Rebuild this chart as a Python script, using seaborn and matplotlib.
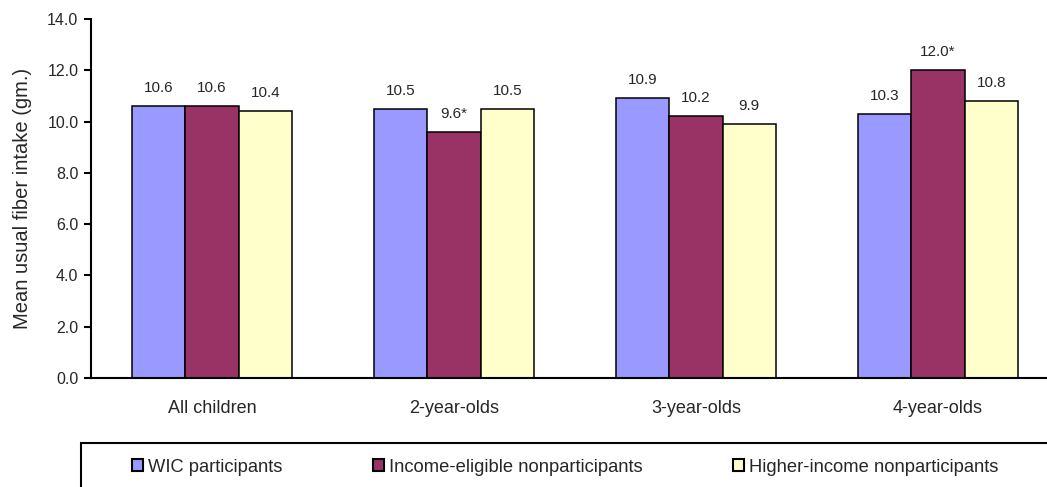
import numpy as np
import pandas as pd
import seaborn as sns
import matplotlib.pyplot as plt
from matplotlib.patches import Rectangle

# Chart data
categories = ['All children', '2-year-olds', '3-year-olds', '4-year-olds']
groups = ['WIC participants', 'Income-eligible nonparticipants', 'Higher-income nonparticipants']
wic = [10.6, 10.5, 10.9, 10.3]
eligible = [10.6, 9.6, 10.2, 12.0]
higher = [10.4, 10.5, 9.9, 10.8]
labels_wic = ['10.6', '10.5', '10.9', '10.3']
labels_eligible = ['10.6', '9.6*', '10.2', '12.0*']
labels_higher = ['10.4', '10.5', '9.9', '10.8']
colors = ['#9999FF', '#993366', '#FFFFCC']

df = pd.DataFrame({
    'category': categories * 3,
    'group': [groups[0]] * 4 + [groups[1]] * 4 + [groups[2]] * 4,
    'value': wic + eligible + higher,
})

sns.set_style('white')
plt.rcParams['font.family'] = ['Liberation Sans', 'DejaVu Sans']

fig = plt.figure(figsize=(10.47, 4.87), dpi=100)
ax = fig.add_axes([91 / 1047, 109 / 487, 968 / 1047, 359 / 487])

sns.barplot(data=df, x='category', y='value', hue='group', order=categories,
            hue_order=groups, palette=colors, saturation=1, width=0.66, gap=0,
            edgecolor='black', linewidth=1.1, errorbar=None, ax=ax, legend=False)

# value labels
all_labels = [labels_wic, labels_eligible, labels_higher]
for container, labs in zip(ax.containers, all_labels):
    ax.bar_label(container, labels=labs, padding=8, fontsize=11)

ax.set_ylim(0, 14)
ax.set_xlim(-0.5, 3.5)
ax.set_yticks(np.arange(0, 14.1, 2))
ax.set_yticklabels([f'{v:.1f}' for v in np.arange(0, 14.1, 2)], fontsize=11.5)
ax.set_xticks(range(4))
ax.set_xticklabels(categories, fontsize=13)
ax.set_xticks(np.arange(-0.5, 4, 1), minor=True)
ax.tick_params(axis='x', which='major', length=0, pad=16)
ax.tick_params(axis='x', which='minor', length=5, width=1.5, direction='out', color='black')
ax.tick_params(axis='y', length=5, width=1.5, direction='out', color='black', left=True, pad=4)
ax.set_xlabel('')
ax.set_ylabel('Mean usual fiber intake (gm.)', fontsize=14.5, labelpad=11)
for s in ['top', 'right']:
    ax.spines[s].set_visible(False)
for s in ['left', 'bottom']:
    ax.spines[s].set_color('black')
    ax.spines[s].set_linewidth(1.5)

# legend box running off the figure edge
fig.patches.append(Rectangle((81 / 1047, -0.05), 1.0, (487 - 443) / 487 + 0.05,
                             transform=fig.transFigure, fill=False,
                             edgecolor='black', linewidth=1.5))
handles = [Rectangle((0, 0), 1, 1, facecolor=c, edgecolor='black', linewidth=1.5)
           for c in colors]
fig.legend(handles, groups, loc='center left', bbox_to_anchor=(132 / 1047, 20 / 487),
           ncol=3, frameon=False, fontsize=13.2, handlelength=0.6, handleheight=0.6,
           handletextpad=0.3, columnspacing=4.9, borderaxespad=0, borderpad=0)

fig.savefig('out.png', dpi=100)
